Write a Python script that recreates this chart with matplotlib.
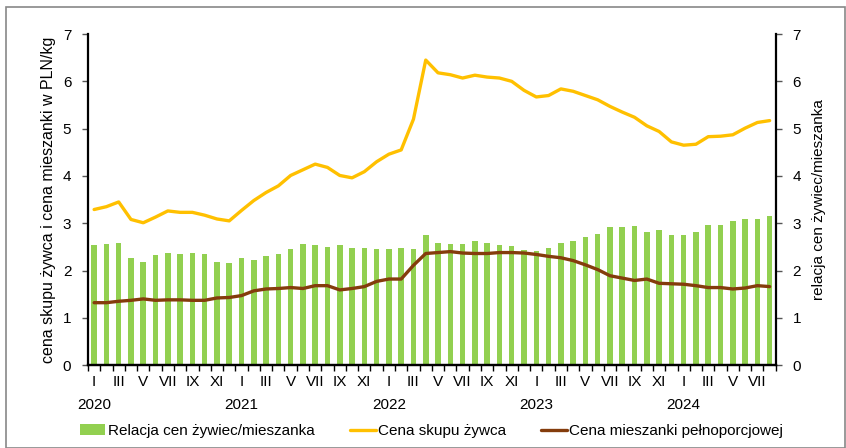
import numpy as np
import matplotlib
matplotlib.use("Agg")
import matplotlib.pyplot as plt
from matplotlib.patches import Rectangle
import matplotlib.transforms as mtransforms

plt.rcParams['font.family'] = ['Liberation Sans', 'DejaVu Sans']

# dane miesięczne I 2020 - VIII 2024
lata = ["2020", "2021", "2022", "2023", "2024"]
miesiace = ["I", "II", "III", "IV", "V", "VI", "VII", "VIII", "IX", "X", "XI", "XII"]

relacja = [2.54, 2.56, 2.58, 2.26, 2.18, 2.33, 2.38, 2.36, 2.38, 2.34, 2.19, 2.16,
           2.26, 2.23, 2.30, 2.35, 2.45, 2.56, 2.55, 2.50, 2.54, 2.47, 2.47, 2.45,
           2.46, 2.48, 2.45, 2.75, 2.59, 2.56, 2.57, 2.62, 2.59, 2.55, 2.52, 2.44,
           2.42, 2.48, 2.59, 2.63, 2.70, 2.78, 2.91, 2.93, 2.95, 2.81, 2.85, 2.76,
           2.75, 2.82, 2.96, 2.97, 3.04, 3.08, 3.09, 3.15]

cena_zywca = [3.29, 3.35, 3.45, 3.08, 3.01, 3.13, 3.26, 3.23, 3.23, 3.17, 3.09, 3.05,
              3.27, 3.48, 3.65, 3.79, 4.01, 4.13, 4.25, 4.18, 4.01, 3.96, 4.09, 4.30,
              4.46, 4.55, 5.20, 6.45, 6.18, 6.14, 6.07, 6.13, 6.09, 6.07, 6.00, 5.81,
              5.67, 5.70, 5.84, 5.79, 5.70, 5.61, 5.47, 5.35, 5.24, 5.06, 4.94, 4.72,
              4.65, 4.67, 4.83, 4.84, 4.87, 5.01, 5.13, 5.17]

cena_mieszanki = [1.32, 1.32, 1.35, 1.37, 1.40, 1.37, 1.38, 1.38, 1.37, 1.37, 1.42, 1.43,
                  1.47, 1.57, 1.61, 1.62, 1.64, 1.62, 1.68, 1.68, 1.59, 1.62, 1.66, 1.77,
                  1.82, 1.82, 2.11, 2.36, 2.38, 2.40, 2.37, 2.36, 2.36, 2.38, 2.38, 2.37,
                  2.34, 2.30, 2.27, 2.21, 2.12, 2.02, 1.89, 1.84, 1.79, 1.82, 1.73, 1.72,
                  1.71, 1.68, 1.64, 1.64, 1.61, 1.63, 1.68, 1.66]

n = len(relacja)
x = np.arange(n)

fig = plt.figure(figsize=(8.46, 4.48), dpi=100)
ax = fig.add_axes([0.104, 0.185, 0.813, 0.739])
ax2 = ax.twinx()

ax2.bar(x, relacja, width=0.45, color="#92D050", zorder=1, label="Relacja cen żywiec/mieszanka")
ax.plot(x, cena_zywca, color="#FFC000", lw=2.4, solid_joinstyle="round", solid_capstyle="round",
        label="Cena skupu żywca", zorder=3)
ax.plot(x, cena_mieszanki, color="#843C0C", lw=2.4, solid_joinstyle="round", solid_capstyle="round",
        label="Cena mieszanki pełnoporcjowej", zorder=3)
ax.set_zorder(ax2.get_zorder() + 1)
ax.patch.set_visible(False)

for a in (ax, ax2):
    a.set_xlim(-0.5, n - 0.5)
    a.set_ylim(0, 7)
    a.set_yticks(range(8))
    a.spines['top'].set_visible(False)
    for s in ('left', 'right', 'bottom'):
        a.spines[s].set_linewidth(1.6)
    a.tick_params(axis='y', labelsize=11, length=4, width=1, color="#555555", pad=8)

ax.spines['right'].set_visible(False)
ax2.spines['left'].set_visible(False)

# znaczniki osi x między miesiącami
ax.set_xticks(np.arange(-0.5, n, 1.0))
ax.set_xticklabels([])
ax.tick_params(axis='x', length=4, width=1, direction='out')
ax2.tick_params(axis='x', length=0)

trans = mtransforms.blended_transform_factory(ax.transData, ax.transAxes)
for i in range(0, n, 2):
    ax.text(i, -0.052, miesiace[i % 12], transform=trans, ha='center', va='center', fontsize=11)
for k, rok in enumerate(lata):
    ax.text(12 * k, -0.12, rok, transform=trans, ha='center', va='center', fontsize=11)

ax.set_ylabel("cena skupu żywca i cena mieszanki w PLN/kg", fontsize=11.5, labelpad=5)
ax2.set_ylabel("relacja cen żywiec/mieszanka", fontsize=11, rotation=90, labelpad=8)

h1, l1 = ax2.get_legend_handles_labels()
h2, l2 = ax.get_legend_handles_labels()
fig.legend(h1 + h2, l1 + l2, loc='center left', bbox_to_anchor=(0.094, 0.038), ncol=3,
           frameon=False, fontsize=11, handlelength=1.7, handletextpad=0.15,
           columnspacing=2.3, borderaxespad=0, borderpad=0)

fig.patches.append(Rectangle((6 / 846, 0.0), 839 / 846, 441 / 448, transform=fig.transFigure,
                             fill=False, edgecolor="#888888", lw=1.2))

fig.savefig("out.png", dpi=100)
